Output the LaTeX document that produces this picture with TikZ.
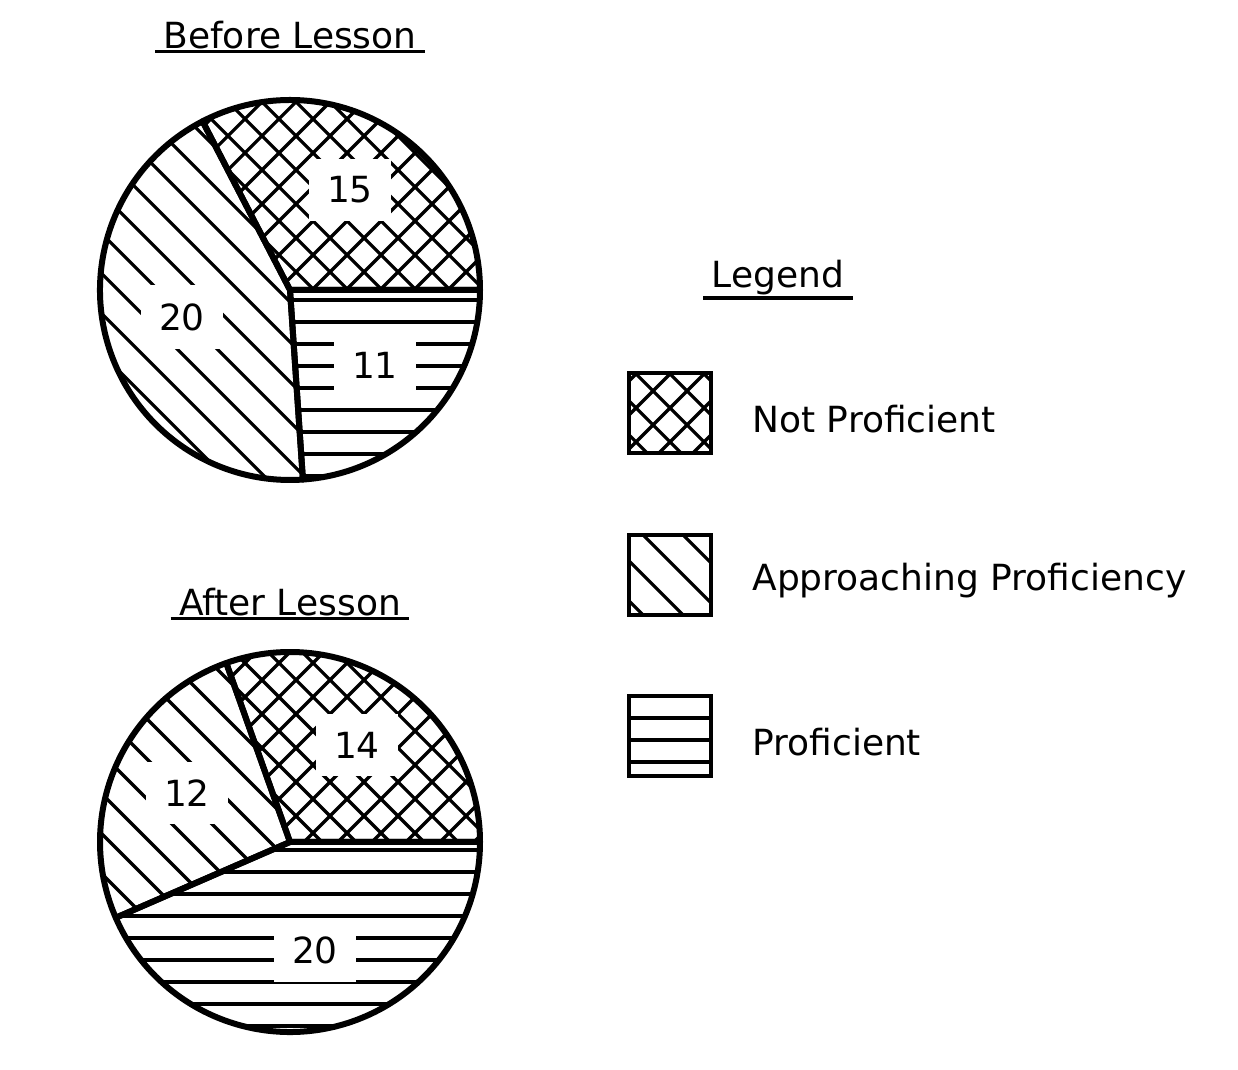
\documentclass[tikz,border=0pt]{standalone}
\usepackage{fontspec}
\setmainfont{DejaVu Sans}
\usetikzlibrary{positioning}

\tikzset{
    hatch/.style={line width=1.6pt},
    rim/.style={line width=3pt, line join=round},
    lbl/.style={fill=white, inner sep=9pt, font=\fontsize{18}{21}\selectfont},
    ttl/.style={inner sep=1pt, font=\fontsize{18}{21}\selectfont},
    uline/.style={line width=1.8pt}
}
% hatch fills, drawn inside a clip
\newcommand{\crossfill}{%
    \foreach \c in {-1300,-1266,...,1100} {
        \draw[hatch] (0,\c) -- (1238,\c+1238);
        \draw[hatch] (0,\c+1238) -- (1238,\c);
    }}
\newcommand{\diagfill}{%
    \foreach \c in {-1300,-1260,...,1300} {
        \draw[hatch] (0,\c+1238) -- (1238,\c);
    }}
\newcommand{\horizfill}{%
    \foreach \c in {0,22,...,1070} {
        \draw[hatch] (0,\c) -- (1238,\c);
    }}
% pie slice: center, start angle, end angle, fill macro
\newcommand{\pieslice}[4]{%
    \begin{scope}
        \clip #1 -- ++(#2:190) arc[start angle=#2, end angle=#3, radius=190] -- cycle;
        #4
    \end{scope}
    \draw[rim] #1 -- ++(#2:190) arc[start angle=#2, end angle=#3, radius=190] -- cycle;}
\newcommand{\legbox}[2]{%
    \begin{scope}
        \clip #1 rectangle ++(82,80);
        #2
    \end{scope}
    \draw[line width=1.8pt] #1 rectangle ++(82,80);}

\begin{document}
\begin{tikzpicture}[x=0.5pt, y=0.5pt]
    \useasboundingbox (0,0) rectangle (1238,1070);

    % Before lesson
    \node[ttl] (before) at (290,1035) {Before Lesson};
    \draw[uline] ([xshift=-3pt]before.south west) -- ([xshift=3pt]before.south east);
    \pieslice{(290,780)}{0}{117.4}{\crossfill}
    \pieslice{(290,780)}{117.4}{273.9}{\diagfill}
    \pieslice{(290,780)}{273.9}{360}{\horizfill}
    \node[lbl] (b15) at (350,880) {15};
    \node[lbl] (b20) at (182,753) {20};
    \node[lbl] (b11) at (375,705) {11};

    % After lesson
    \node[ttl] (after) at (290,468) {After Lesson};
    \draw[uline] ([xshift=-3pt]after.south west) -- ([xshift=3pt]after.south east);
    \pieslice{(290,228)}{0}{109.6}{\crossfill}
    \pieslice{(290,228)}{109.6}{203.5}{\diagfill}
    \pieslice{(290,228)}{203.5}{360}{\horizfill}
    \node[lbl] (a14) at (357,325) {14};
    \node[lbl] (a12) at (187,277) {12};
    \node[lbl] (a20) at (315,120) {20};

    % Legend
    \node[ttl] (legend) at (778,792) {Legend};
    \draw[uline] ([xshift=-3pt]legend.south west) -- ([xshift=3pt]legend.south east);
    \legbox{(629,617)}{\crossfill}
    \legbox{(629,455)}{\diagfill}
    \legbox{(629,294)}{\horizfill}
    \node[ttl, anchor=west] (notp) at (750,651) {Not Proficient};
    \node[ttl, anchor=west] (appr) at (750,489) {Approaching Proficiency};
    \node[ttl, anchor=west] (prof) at (750,328) {Proficient};
\end{tikzpicture}
\end{document}
